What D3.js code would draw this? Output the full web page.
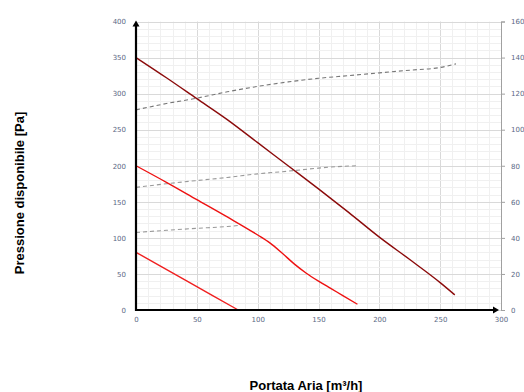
<!DOCTYPE html>
<html>
<head>
<meta charset="utf-8">
<script src="https://cdn.jsdelivr.net/npm/d3@7"></script>
<style>
  body { margin: 0; background: #fff; }
  svg { display: block; }
</style>
</head>
<body>
<div id="chart"></div>
<script>
// pressure curves, left axis [Pa]
const curveHigh = [[0,350],[25,322],[50,293],[75,264],[100,232],[125,200],[150,168],[175,135],[200,101],[225,70],[250,38],[262,21]];
const curveMid = [[0,200],[25,177],[50,153],[75,129],[100,104],[110,93],[120,79],[130,64],[140,51],[150,40],[160,30],[170,20],[182,8]];
const curveLow = [[0,80],[42,40],[84,0]];
// dashed curves, right axis
const dashHigh = [[0,111],[25,114.5],[50,117.5],[75,121],[100,124],[125,126.5],[150,128.5],[175,130],[200,131.5],[225,133],[250,134.5],[263,136.5]];
const dashMid = [[0,68],[25,70],[50,71.8],[75,73.5],[100,75.5],[125,77],[150,78.7],[165,79.5],[182,80]];
const dashLow = [[0,43],[25,44.2],[50,45.3],[75,46.3],[86,47]];

const xTicks = [0,50,100,150,200,250,300];
const yTicks = [0,50,100,150,200,250,300,350,400];
const y2Ticks = [0,20,40,60,80,100,120,140,160];

const width = 524, height = 392;
const plotL = 136, plotR = 501, plotT = 21.5, plotB = 310;

const svg = d3.select("#chart").append("svg")
  .attr("width", width)
  .attr("height", height);

const x = d3.scaleLinear().domain([0, 300]).range([plotL, plotR]);
const y = d3.scaleLinear().domain([0, 400]).range([plotB, plotT]);
const y2 = d3.scaleLinear().domain([0, 160]).range([plotB, plotT]);

// grid: minor every 10, major every 50
const grid = svg.append("g");
grid.selectAll(".vx").data(d3.range(0, 301, 10)).enter().append("line")
  .attr("x1", d => Math.round(x(d)) + 0.5).attr("x2", d => Math.round(x(d)) + 0.5)
  .attr("y1", plotT).attr("y2", plotB)
  .attr("stroke", d => d % 50 === 0 ? "#d9d9d9" : "#f0f0f0")
  .attr("stroke-width", 1);
grid.selectAll(".hy").data(d3.range(0, 401, 10)).enter().append("line")
  .attr("x1", plotL).attr("x2", plotR)
  .attr("y1", d => Math.round(y(d)) + 0.5).attr("y2", d => Math.round(y(d)) + 0.5)
  .attr("stroke", d => d % 50 === 0 ? "#d9d9d9" : "#f0f0f0")
  .attr("stroke-width", 1);

// right axis
const yAxisRight = d3.axisRight(y2).tickValues(y2Ticks).tickSize(4).tickPadding(6);
const gr = svg.append("g").attr("transform", `translate(${plotR},0)`).call(yAxisRight);
gr.select(".domain").attr("stroke", "#a0a0a0");
gr.selectAll(".tick line").attr("stroke", "#a0a0a0");
gr.selectAll("text").attr("fill", "#5a6784").style("font-family", "DejaVu Sans").style("font-size", "7px");

const line = d3.line().x(d => x(d[0])).y(d => y(d[1])).curve(d3.curveMonotoneX);
const line2 = d3.line().x(d => x(d[0])).y(d => y2(d[1])).curve(d3.curveMonotoneX);

// dashed curves
[[dashHigh, "#777"], [dashMid, "#999"], [dashLow, "#999"]].forEach(([data, c]) => {
  svg.append("path").datum(data)
    .attr("d", line2)
    .attr("fill", "none")
    .attr("stroke", c)
    .attr("stroke-width", 1.1)
    .attr("stroke-dasharray", "4,3");
});

// pressure curves
[[curveHigh, "#8b0a0a"], [curveMid, "#ee1111"], [curveLow, "#f02020"]].forEach(([data, c]) => {
  svg.append("path").datum(data)
    .attr("d", line)
    .attr("fill", "none")
    .attr("stroke", c)
    .attr("stroke-width", 1.4);
});

// left axis
const yAxis = d3.axisLeft(y).tickValues(yTicks).tickSize(0).tickPadding(10);
const gl = svg.append("g").attr("transform", `translate(${plotL},0)`).call(yAxis);
gl.select(".domain").remove();
gl.selectAll("text").attr("fill", "#5a6784").style("font-family", "DejaVu Sans").style("font-size", "7px");

const xAxis = d3.axisBottom(x).tickValues(xTicks).tickSize(0).tickPadding(7);
const gx = svg.append("g").attr("transform", `translate(0,${plotB})`).call(xAxis);
gx.select(".domain").remove();
gx.selectAll("text").attr("fill", "#5a6784").style("font-family", "DejaVu Sans").style("font-size", "7px");

// black axis lines with arrows
svg.append("line").attr("x1", plotL).attr("x2", plotL).attr("y1", plotB + 1).attr("y2", plotT + 3)
  .attr("stroke", "#000").attr("stroke-width", 2.2);
svg.append("path")
  .attr("d", `M${plotL - 3.5},${plotT + 5} L${plotL},${plotT - 1} L${plotL + 3.5},${plotT + 5} Z`)
  .attr("fill", "#000");
svg.append("line").attr("x1", plotL - 1).attr("x2", plotR - 6).attr("y1", plotB).attr("y2", plotB)
  .attr("stroke", "#000").attr("stroke-width", 2.2);
svg.append("path")
  .attr("d", `M${plotR - 8},${plotB - 3.5} L${plotR - 2},${plotB} L${plotR - 8},${plotB + 3.5} Z`)
  .attr("fill", "#000");

// axis titles
svg.append("text")
  .attr("transform", "translate(24,193) rotate(-90)")
  .attr("text-anchor", "middle")
  .style("font-family", "'Liberation Sans Narrow', 'Liberation Sans', sans-serif")
  .style("font-weight", "bold")
  .style("font-size", "13px")
  .text("Pressione disponibile [Pa]");

svg.append("text")
  .attr("x", 306).attr("y", 390)
  .attr("text-anchor", "middle")
  .style("font-family", "'Liberation Sans Narrow', 'Liberation Sans', sans-serif")
  .style("font-weight", "bold")
  .style("font-size", "13px")
  .text("Portata Aria [m³/h]");
</script>
</body>
</html>
